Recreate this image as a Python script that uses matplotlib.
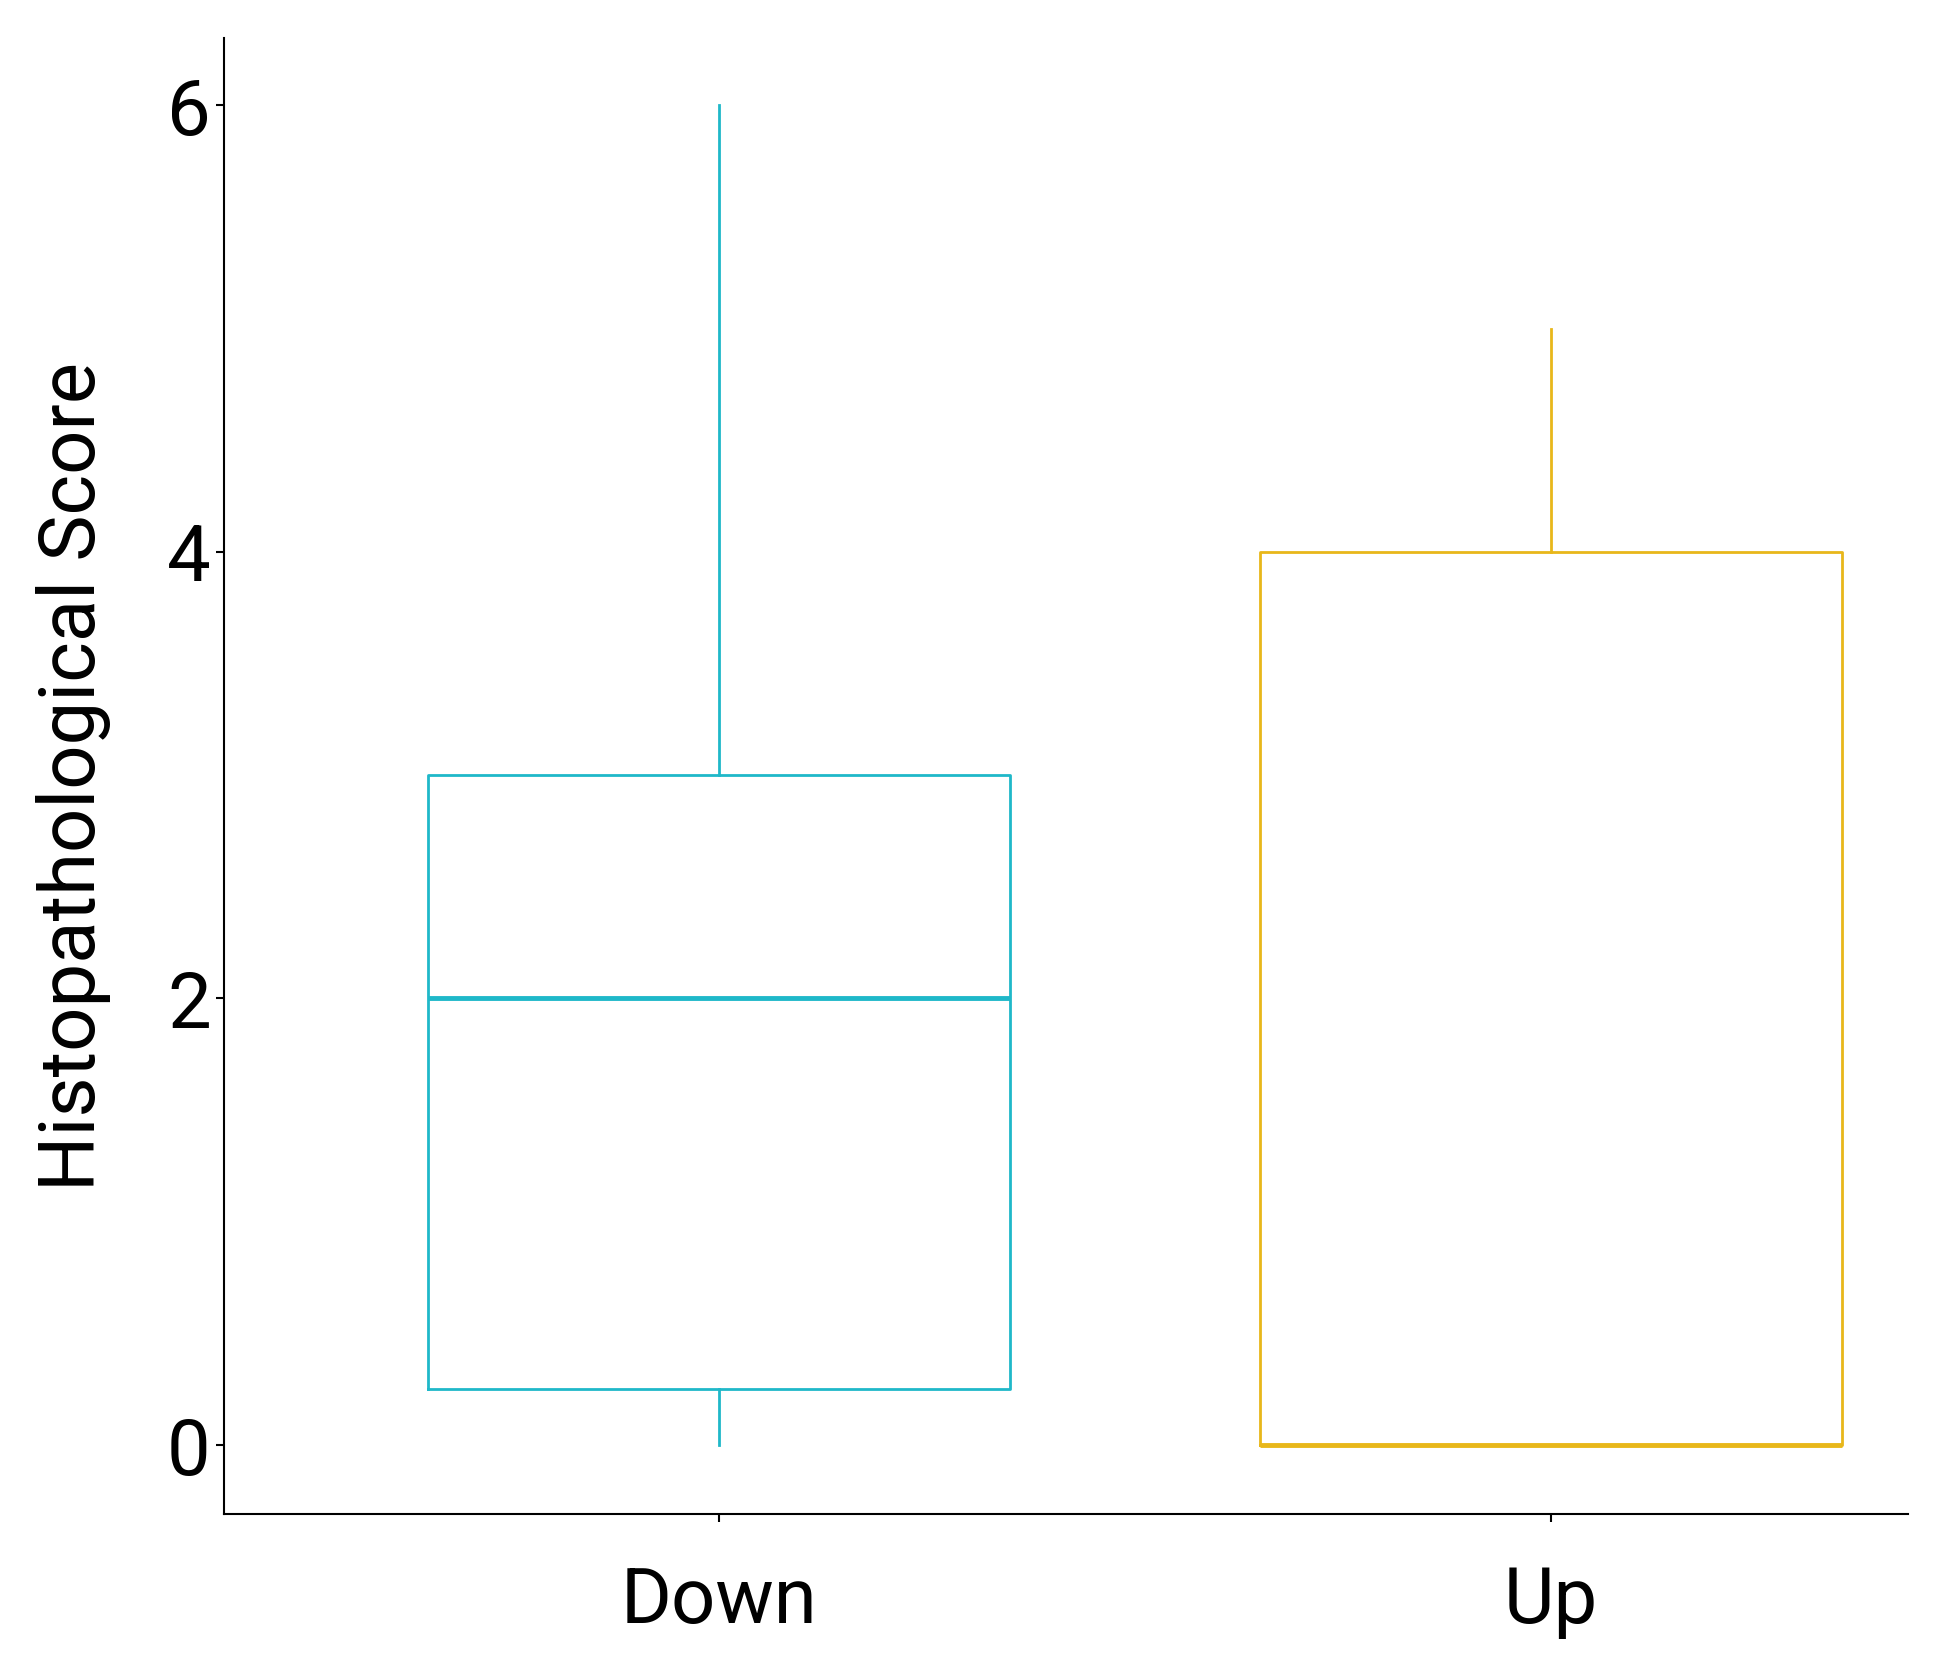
import matplotlib.pyplot as plt

groups = ["Down", "Up"]
colors = ["#1FB8C9", "#E8B71A"]
whislo = [0, 0]
q1 = [0.25, 0]
med = [2, 0]
q3 = [3, 4]
whishi = [6, 5]

plt.rcParams["font.family"] = ["Roboto", "DejaVu Sans"]
fig = plt.figure(figsize=(19.47, 16.64), dpi=100)
ax = fig.add_axes([0.115, 0.09, 0.87 - 0.005, 0.887])

stats = [dict(label=g, whislo=a, q1=b, med=c, q3=d, whishi=e, fliers=[])
         for g, a, b, c, d, e in zip(groups, whislo, q1, med, q3, whishi)]
bp = ax.bxp(stats, positions=[1, 2], widths=0.7, showcaps=False, patch_artist=False)
for i, c in enumerate(colors):
    bp["boxes"][i].set(color=c, linewidth=2)
    bp["medians"][i].set(color=c, linewidth=3.5)
    for w in bp["whiskers"][2 * i:2 * i + 2]:
        w.set(color=c, linewidth=2)

ax.set_xlim(0.404, 2.43)
ax.set_ylim(-0.31, 6.3)
ax.set_yticks([0, 2, 4, 6])
ax.set_xticks([1, 2], groups)
ax.spines["top"].set_visible(False)
ax.spines["right"].set_visible(False)
for s in ["left", "bottom"]:
    ax.spines[s].set_linewidth(1.5)
ax.tick_params(labelsize=56, length=6, width=1.5)
ax.tick_params(axis="x", pad=30)
ax.set_ylabel("Histopathological Score", fontsize=56, labelpad=40)

fig.savefig("out.png")
